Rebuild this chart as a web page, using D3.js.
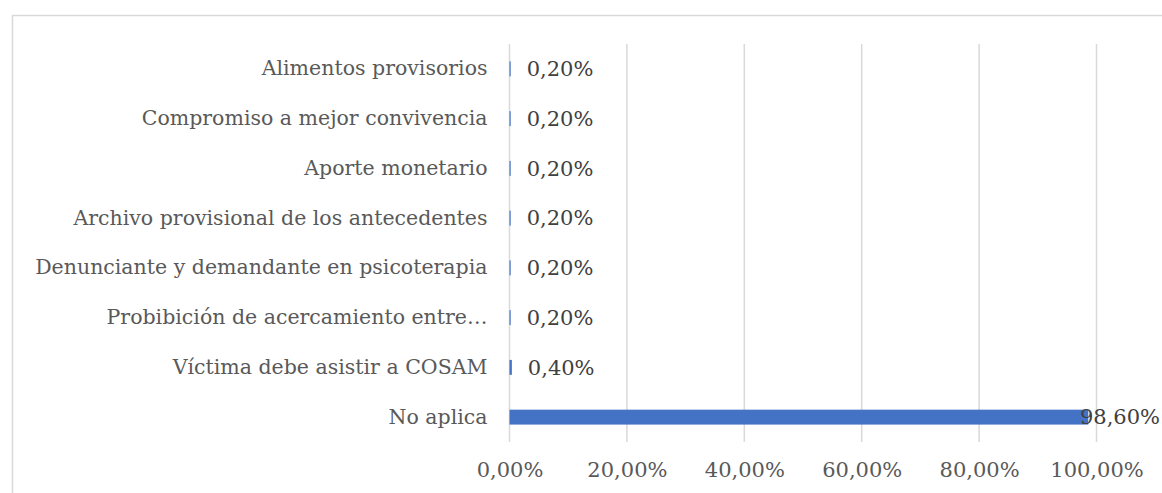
<!DOCTYPE html>
<html>
<head>
<meta charset="utf-8">
<script src="https://cdn.jsdelivr.net/npm/d3@7"></script>
<style>
  body { margin: 0; background: #fff; }
  svg text { font-family: Georgia, "DejaVu Serif", serif; }
</style>
</head>
<body>
<div id="chart"></div>
<script>
// data, top to bottom as shown
var categories = ["Alimentos provisorios", "Compromiso a mejor convivencia", "Aporte monetario",
  "Archivo provisional de los antecedentes", "Denunciante y demandante en psicoterapia",
  "Probibición de acercamiento entre…", "Víctima debe asistir a COSAM", "No aplica"];
var values = [0.2, 0.2, 0.2, 0.2, 0.2, 0.2, 0.4, 98.6];
var ticks = [0, 20, 40, 60, 80, 100];

var width = 1162, height = 493;
var plot = {left: 509.5, right: 1096.5, top: 44, bottom: 442};

var svg = d3.select("#chart").append("svg")
  .attr("width", width)
  .attr("height", height);

// chart frame (runs off the right and bottom of the picture)
svg.append("rect")
  .attr("x", 12.5).attr("y", 15.5)
  .attr("width", 1200).attr("height", 600)
  .attr("fill", "none")
  .attr("stroke", "#d9d9d9")
  .attr("stroke-width", 1.5);

var fmt = function(v) { return d3.format(".2f")(v).replace(".", ",") + "%"; };

var x = d3.scaleLinear().domain([0, 100]).range([plot.left, plot.right]);
var y = d3.scaleBand().domain(categories).range([plot.top, plot.bottom]).paddingInner(0.7).paddingOuter(0.35);

// vertical gridlines
svg.append("g").selectAll("line")
  .data(ticks)
  .join("line")
  .attr("x1", d => x(d)).attr("x2", d => x(d))
  .attr("y1", plot.top).attr("y2", plot.bottom)
  .attr("stroke", "#d9d9d9")
  .attr("stroke-width", 1.5);

// x axis labels
var xAxis = svg.append("g")
  .attr("transform", `translate(0, ${plot.bottom})`)
  .call(d3.axisBottom(x).tickValues(ticks).tickFormat(fmt).tickSize(0).tickPadding(20));
xAxis.select(".domain").remove();
xAxis.selectAll("text")
  .attr("font-size", "21px")
  .attr("fill", "#595959");

// y axis labels
var yAxis = svg.append("g")
  .attr("transform", `translate(${plot.left}, 0)`)
  .call(d3.axisLeft(y).tickSize(0).tickPadding(22));
yAxis.select(".domain").remove();
yAxis.selectAll("text")
  .attr("font-size", "20.5px")
  .attr("fill", "#595959");

// bars
svg.append("g").selectAll("rect")
  .data(values)
  .join("rect")
  .attr("x", x(0))
  .attr("y", (d, i) => y(categories[i]))
  .attr("width", d => x(d) - x(0))
  .attr("height", y.bandwidth())
  .attr("fill", "#4472c4");

// value labels; a label that would run off the right edge is pulled back inside
svg.append("g").selectAll("text")
  .data(values)
  .join("text")
  .attr("y", (d, i) => y(categories[i]) + y.bandwidth() / 2)
  .attr("dy", "0.35em")
  .attr("font-size", "21px")
  .attr("fill", "#404040")
  .text(fmt)
  .attr("x", function(d) {
    var len = this.getComputedTextLength();
    return Math.min(x(d) + 16, width - len - 2);
  });
</script>
</body>
</html>
